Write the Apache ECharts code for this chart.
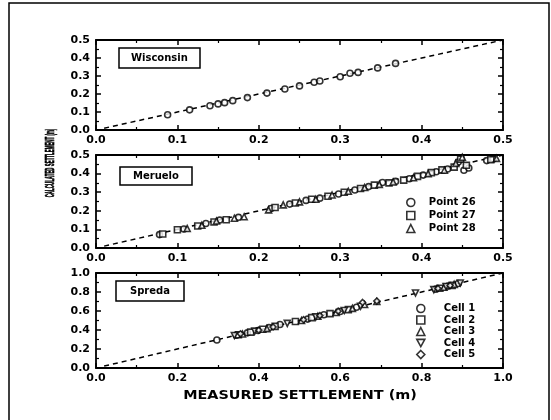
<!DOCTYPE html>
<html>
<head>
<meta charset="utf-8">
<script src="https://cdn.jsdelivr.net/npm/echarts@6/dist/echarts.min.js"></script>
<style>
  html, body { margin: 0; padding: 0; background: #fff; }
  #chart { width: 551px; height: 420px; }
</style>
</head>
<body>
<div id="chart"></div>
<script>
// Measured vs calculated settlement (m) for three sites
const wisconsin = [
  [0.088,0.085],[0.115,0.112],[0.140,0.135],[0.150,0.145],[0.158,0.152],[0.168,0.163],
  [0.186,0.180],[0.210,0.205],[0.232,0.228],[0.250,0.245],[0.268,0.265],[0.275,0.272],
  [0.300,0.296],[0.312,0.315],[0.322,0.320],[0.346,0.345],[0.368,0.370]
];

const point26 = [
  [0.078,0.072],[0.108,0.102],[0.135,0.132],[0.152,0.150],[0.175,0.165],[0.215,0.212],
  [0.238,0.236],[0.258,0.256],[0.275,0.268],[0.298,0.290],[0.318,0.312],[0.335,0.330],
  [0.352,0.352],[0.368,0.358],[0.385,0.372],[0.402,0.392],[0.418,0.410],[0.432,0.425],
  [0.445,0.462],[0.452,0.418],[0.458,0.430],[0.480,0.470],[0.488,0.478]
];
const point27 = [
  [0.082,0.075],[0.100,0.098],[0.125,0.118],[0.145,0.140],[0.160,0.152],[0.220,0.218],
  [0.245,0.242],[0.265,0.262],[0.285,0.278],[0.305,0.300],[0.325,0.320],[0.342,0.338],
  [0.360,0.350],[0.378,0.365],[0.395,0.385],[0.412,0.405],[0.425,0.420],[0.440,0.435],
  [0.448,0.478],[0.455,0.445],[0.485,0.475]
];
const point28 = [
  [0.112,0.105],[0.130,0.122],[0.148,0.145],[0.170,0.160],[0.182,0.168],[0.212,0.205],
  [0.230,0.232],[0.250,0.248],[0.270,0.262],[0.290,0.285],[0.310,0.305],[0.330,0.325],
  [0.348,0.342],[0.365,0.355],[0.390,0.378],[0.408,0.400],[0.428,0.418],[0.442,0.455],
  [0.450,0.488],[0.492,0.482]
];

const cell1 = [
  [0.297,0.295],[0.345,0.345],[0.372,0.370],[0.398,0.395],[0.425,0.425],[0.452,0.458],
  [0.520,0.515],[0.560,0.560],[0.600,0.595],[0.640,0.640],[0.835,0.830],[0.865,0.862],[0.890,0.890]
];
const cell2 = [
  [0.350,0.350],[0.380,0.378],[0.410,0.408],[0.440,0.438],[0.490,0.490],[0.530,0.530],
  [0.575,0.572],[0.620,0.615],[0.845,0.840],[0.875,0.870]
];
const cell3 = [
  [0.360,0.358],[0.420,0.415],[0.505,0.500],[0.545,0.545],[0.590,0.585],[0.630,0.628],
  [0.660,0.668],[0.690,0.700],[0.855,0.850],[0.880,0.880]
];
const cell4 = [
  [0.340,0.342],[0.390,0.388],[0.470,0.470],[0.540,0.538],[0.610,0.605],[0.650,0.650],
  [0.785,0.790],[0.830,0.825],[0.860,0.858],[0.895,0.895]
];
const cell5 = [
  [0.355,0.360],[0.400,0.398],[0.435,0.432],[0.510,0.508],[0.550,0.552],[0.595,0.598],
  [0.655,0.690],[0.690,0.705],[0.840,0.838],[0.870,0.868]
];

// Axis ranges per panel: [max, interval]
const panelRanges = [[0.5, 0.1], [0.5, 0.1], [1.0, 0.2]];
const panelNames = ['Wisconsin', 'Meruelo', 'Spreda'];
const pointNames = ['Point 26', 'Point 27', 'Point 28'];
const cellNames = ['Cell 1', 'Cell 2', 'Cell 3', 'Cell 4', 'Cell 5'];

const FONT = 'DejaVu Sans';
const grids = [
  { left: 96, top: 40, width: 407, height: 90 },
  { left: 96, top: 155, width: 407, height: 93 },
  { left: 96, top: 273, width: 407, height: 95 }
];

function axis(kind, gridIndex, position, showLabel) {
  const [max, interval] = panelRanges[gridIndex];
  return {
    type: 'value', gridIndex, position, min: 0, max, interval,
    axisLine: { show: true, onZero: false, lineStyle: { color: '#000', width: 1.8 } },
    axisTick: { show: true, inside: true, length: 5, lineStyle: { color: '#000', width: 1.5 } },
    minorTick: { show: true, splitNumber: 2, length: 3, lineStyle: { color: '#000', width: 1.2 } },
    splitLine: { show: false },
    axisLabel: {
      show: showLabel, color: '#000', fontFamily: FONT, fontWeight: 'bold', fontSize: 11,
      margin: kind === 'x' ? 5 : 6,
      formatter: v => v.toFixed(1)
    }
  };
}

const xAxes = [], yAxes = [];
for (let g = 0; g < 3; g++) {
  xAxes.push(axis('x', g, 'bottom', true), axis('x', g, 'top', false));
  yAxes.push(axis('y', g, 'left', true), axis('y', g, 'right', false));
}

const markStyle = { color: '#fff', borderColor: '#000', borderWidth: 1.6 };
function scatter(name, data, g, symbol) {
  return {
    type: 'scatter', name, data, xAxisIndex: g * 2, yAxisIndex: g * 2,
    symbol, symbolSize: 6, itemStyle: markStyle, z: 3
  };
}
function diagonal(g) {
  const max = panelRanges[g][0];
  return {
    type: 'line', data: [[max * 0.02, max * 0.02], [max, max]],
    xAxisIndex: g * 2, yAxisIndex: g * 2, symbol: 'none', silent: true,
    lineStyle: { color: '#000', width: 1.5, type: [5, 4] }, z: 2
  };
}

const downTriangle = 'path://M0,0 L10,0 L5,9 Z';

const series = [
  diagonal(0), diagonal(1), diagonal(2),
  scatter('Wisconsin', wisconsin, 0, 'circle'),
  scatter(pointNames[0], point26, 1, 'circle'),
  scatter(pointNames[1], point27, 1, 'rect'),
  scatter(pointNames[2], point28, 1, 'triangle'),
  scatter(cellNames[0], cell1, 2, 'circle'),
  scatter(cellNames[1], cell2, 2, 'rect'),
  scatter(cellNames[2], cell3, 2, 'triangle'),
  scatter(cellNames[3], cell4, 2, downTriangle),
  scatter(cellNames[4], cell5, 2, 'diamond')
];

const legendText = (padLeft) => ({
  color: '#000', fontFamily: FONT, fontWeight: 'bold', fontSize: 10,
  lineHeight: 11, padding: [0, 0, 0, padLeft]
});

const titleBox = (text, left, top, padV, padH) => ({
  text, left, top,
  borderColor: '#000', borderWidth: 1.5, padding: [padV, padH],
  textStyle: { color: '#000', fontFamily: FONT, fontWeight: 'bold', fontSize: 10, lineHeight: 12 }
});

const option = {
  animation: false,
  backgroundColor: '#fff',
  grid: grids,
  xAxis: xAxes,
  yAxis: yAxes,
  title: [
    titleBox(panelNames[0], 119, 48, 4, 12),
    titleBox(panelNames[1], 120, 167, 3, 13),
    titleBox(panelNames[2], 116, 281, 4, 14)
  ],
  legend: [
    {
      data: pointNames, orient: 'vertical', left: 401, top: 192,
      itemWidth: 8, itemHeight: 8, itemGap: 2, textStyle: legendText(9),
      itemStyle: markStyle, selectedMode: false
    },
    {
      data: cellNames, orient: 'vertical', left: 411, top: 298,
      itemWidth: 8, itemHeight: 8, itemGap: 0.5, textStyle: legendText(14),
      itemStyle: markStyle, selectedMode: false
    }
  ],
  graphic: [
    {
      type: 'rect', shape: { x: 9, y: 3, width: 540, height: 430 },
      style: { fill: 'none', stroke: '#000', lineWidth: 1.5 }, silent: true
    },
    {
      type: 'text', x: 50, y: 163, rotation: Math.PI / 2, scaleX: 0.34,
      style: {
        text: 'CALCULATED SETTLEMENT (m)', fill: '#000', stroke: '#000', lineWidth: 0.7,
        font: 'bold 13px "Liberation Sans"', align: 'center', verticalAlign: 'middle'
      }
    },
    {
      type: 'text', x: 300, y: 396, scaleX: 1.2,
      style: {
        text: 'MEASURED SETTLEMENT (m)', fill: '#000',
        font: 'bold 12px "DejaVu Sans"', align: 'center', verticalAlign: 'middle'
      }
    }
  ],
  series
};

const chart = echarts.init(document.getElementById('chart'), null, { renderer: 'canvas' });
chart.setOption(option);
</script>
</body>
</html>
